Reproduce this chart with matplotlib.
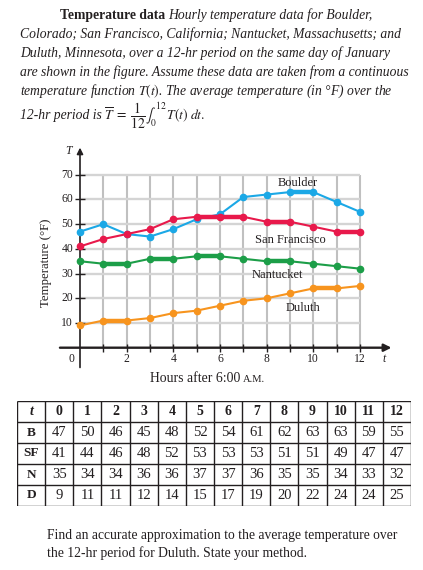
import matplotlib
matplotlib.use('Agg')
import matplotlib.pyplot as plt

plt.rcParams['font.family'] = ['Liberation Serif', 'DejaVu Serif']
plt.rcParams['mathtext.fontset'] = 'stix'

# data: hourly temperatures (deg F), t = hours after 6:00 am
hours = list(range(13))
boulder = [47, 50, 46, 45, 48, 52, 54, 61, 62, 63, 63, 59, 55]
san_francisco = [41, 44, 46, 48, 52, 53, 53, 53, 51, 51, 49, 47, 47]
nantucket = [35, 34, 34, 36, 36, 37, 37, 36, 35, 35, 34, 33, 32]
duluth = [9, 11, 11, 12, 14, 15, 17, 19, 20, 22, 24, 24, 25]

city_names = ['Boulder', 'San Francisco', 'Nantucket', 'Duluth']
row_labels = ['B', 'SF', 'N', 'D']
y_ticks = [10, 20, 30, 40, 50, 60, 70]
x_tick_labels = [0, 2, 4, 6, 8, 10, 12]

series = [boulder, san_francisco, nantucket, duluth]
colors = ['#1ba8e6', '#e8194b', '#1c9e48', '#f7941e']
label_pos = [(9.35, 66.5), (9.0, 43.6), (8.45, 29.3), (9.55, 16.0)]

W, H = 423, 570
fig = plt.figure(figsize=(W / 100, H / 100), dpi=100)
ink = '#231f20'


def fx(px):
    return px / W


def fy(py):
    return 1 - py / H


renderer = fig.canvas.get_renderer()

# ---- paragraph at the top
fs = 9.8
t1 = fig.text(fx(60), fy(19), 'Temperature data', fontsize=fs, fontweight='bold', color=ink)
bb = t1.get_window_extent(renderer)
fig.text(bb.x1 / W + 0.008, fy(19), 'Hourly temperature data for Boulder,',
         fontsize=fs, style='italic', color=ink)
para = ['Colorado; San Francisco, California; Nantucket, Massachusetts; and',
        'Duluth, Minnesota, over a 12-hr period on the same day of January',
        'are shown in the figure. Assume these data are taken from a continuous',
        r'temperature function $T(t)$. The average temperature (in °F) over the']
for i, line in enumerate(para):
    fig.text(fx(20), fy(38 + 19 * i), line, fontsize=fs, style='italic', color=ink)
t2 = fig.text(fx(20), fy(119), '12-hr period is', fontsize=fs, style='italic', color=ink)
bb = t2.get_window_extent(renderer)
fig.text(bb.x1 / W + 0.006, fy(119), r'$\overline{T}\;=\;\dfrac{1}{12}\int_0^{12}\,T(t)\;dt.$',
         fontsize=fs, color=ink)

# ---- chart
x0, x1, y0, y1 = -1.2, 14, -10, 82
ox, sx = 80, 23.33
oy, sy = 347.7, 2.47
ax = fig.add_axes([fx(ox + sx * x0), fy(oy - sy * y0),
                   (x1 - x0) * sx / W, (y1 - y0) * sy / H])
ax.set_xlim(x0, x1)
ax.set_ylim(y0, y1)
ax.axis('off')

ax.vlines(hours[1:], 0, 70, colors='#c0c0c0', lw=1.5, zorder=1)
ax.hlines(y_ticks, 0, 12, colors='#d4d4d4', lw=1.7, zorder=1)

ax.annotate('', xy=(13.35, 0), xytext=(-0.86, 0),
            arrowprops=dict(arrowstyle='-|>', color=ink, lw=1.7, mutation_scale=11,
                            shrinkA=0, shrinkB=0), zorder=2)
ax.annotate('', xy=(0, 81), xytext=(0, -8),
            arrowprops=dict(arrowstyle='-|>', color=ink, lw=1.2, mutation_scale=9,
                            shrinkA=0, shrinkB=0), zorder=2)
ax.vlines(hours[1:], -1.7, 1.7, colors=ink, lw=1.0, zorder=2)
ax.hlines(y_ticks, -0.2, 0.2, colors=ink, lw=1.0, zorder=2)

for v in y_ticks:
    ax.text(-0.3, v, str(v), ha='right', va='center', fontsize=8.4, color=ink)
for v in x_tick_labels:
    ax.text(-0.36 if v == 0 else v, -4.4, str(v), ha='center', va='center', fontsize=8.4, color=ink)
ax.text(-0.5, 79.5, 'T', ha='center', va='center', fontsize=8.4, style='italic', color=ink)
ax.text(13.05, -4.4, 't', ha='center', va='center', fontsize=8.4, style='italic', color=ink)

for vals, c, name, (lx, ly) in zip(series, colors, city_names, label_pos):
    ax.plot(hours, vals, color=c, lw=1.5, marker='o', ms=4.5, zorder=3)
    for i in range(len(vals) - 1):
        if vals[i] == vals[i + 1]:
            ax.plot(hours[i:i + 2], vals[i:i + 2], color=c, lw=3.2,
                    solid_capstyle='butt', zorder=3)
    ax.text(lx, ly, name, ha='center', va='center', fontsize=9, color=ink)

t3 = fig.text(fx(150), fy(382), 'Hours after 6:00', fontsize=9.9, color=ink)
bb = t3.get_window_extent(renderer)
fig.text(bb.x1 / W + 0.007, fy(382), 'A.M.', fontsize=7.6, color=ink)
fig.text(fx(46), fy(263), 'Temperature (°F)', rotation=90, ha='center', va='center',
         fontsize=9.2, color=ink)

# ---- table
tx0, tx1, ty0, ty1 = 17, 411, 401, 506
tab = fig.add_axes([fx(tx0), fy(ty1), (tx1 - tx0) / W, (ty1 - ty0) / H])
ncol = len(hours) + 1
rows = [hours] + series
tab.set_xlim(0, ncol)
tab.set_ylim(len(rows), 0)
tab.axis('off')
tab.vlines(range(ncol + 1), 0, len(rows), colors=ink, lw=1.0)
tab.hlines(range(len(rows) + 1), 0, ncol, colors=ink, lw=1.0)
tab.text(0.5, 0.5, 't', ha='center', va='center', fontsize=10, fontweight='bold',
         style='italic', color=ink)
for r, lab in enumerate(row_labels):
    tab.text(0.5, r + 1.5, lab, ha='center', va='center', fontsize=9.5,
             fontweight='bold', color=ink)
for r, vals in enumerate(rows):
    for c, v in enumerate(vals):
        tab.text(c + 1.5, r + 0.5, str(v), ha='center', va='center',
                 fontsize=10 if r == 0 else 10.5,
                 fontweight='bold' if r == 0 else 'normal', color=ink)

# ---- question
fig.text(fx(47), fy(539), 'Find an accurate approximation to the average temperature over',
         fontsize=9.85, color=ink)
fig.text(fx(47), fy(557), 'the 12-hr period for Duluth. State your method.',
         fontsize=9.85, color=ink)

fig.savefig('out.png', dpi=100, facecolor='white')
